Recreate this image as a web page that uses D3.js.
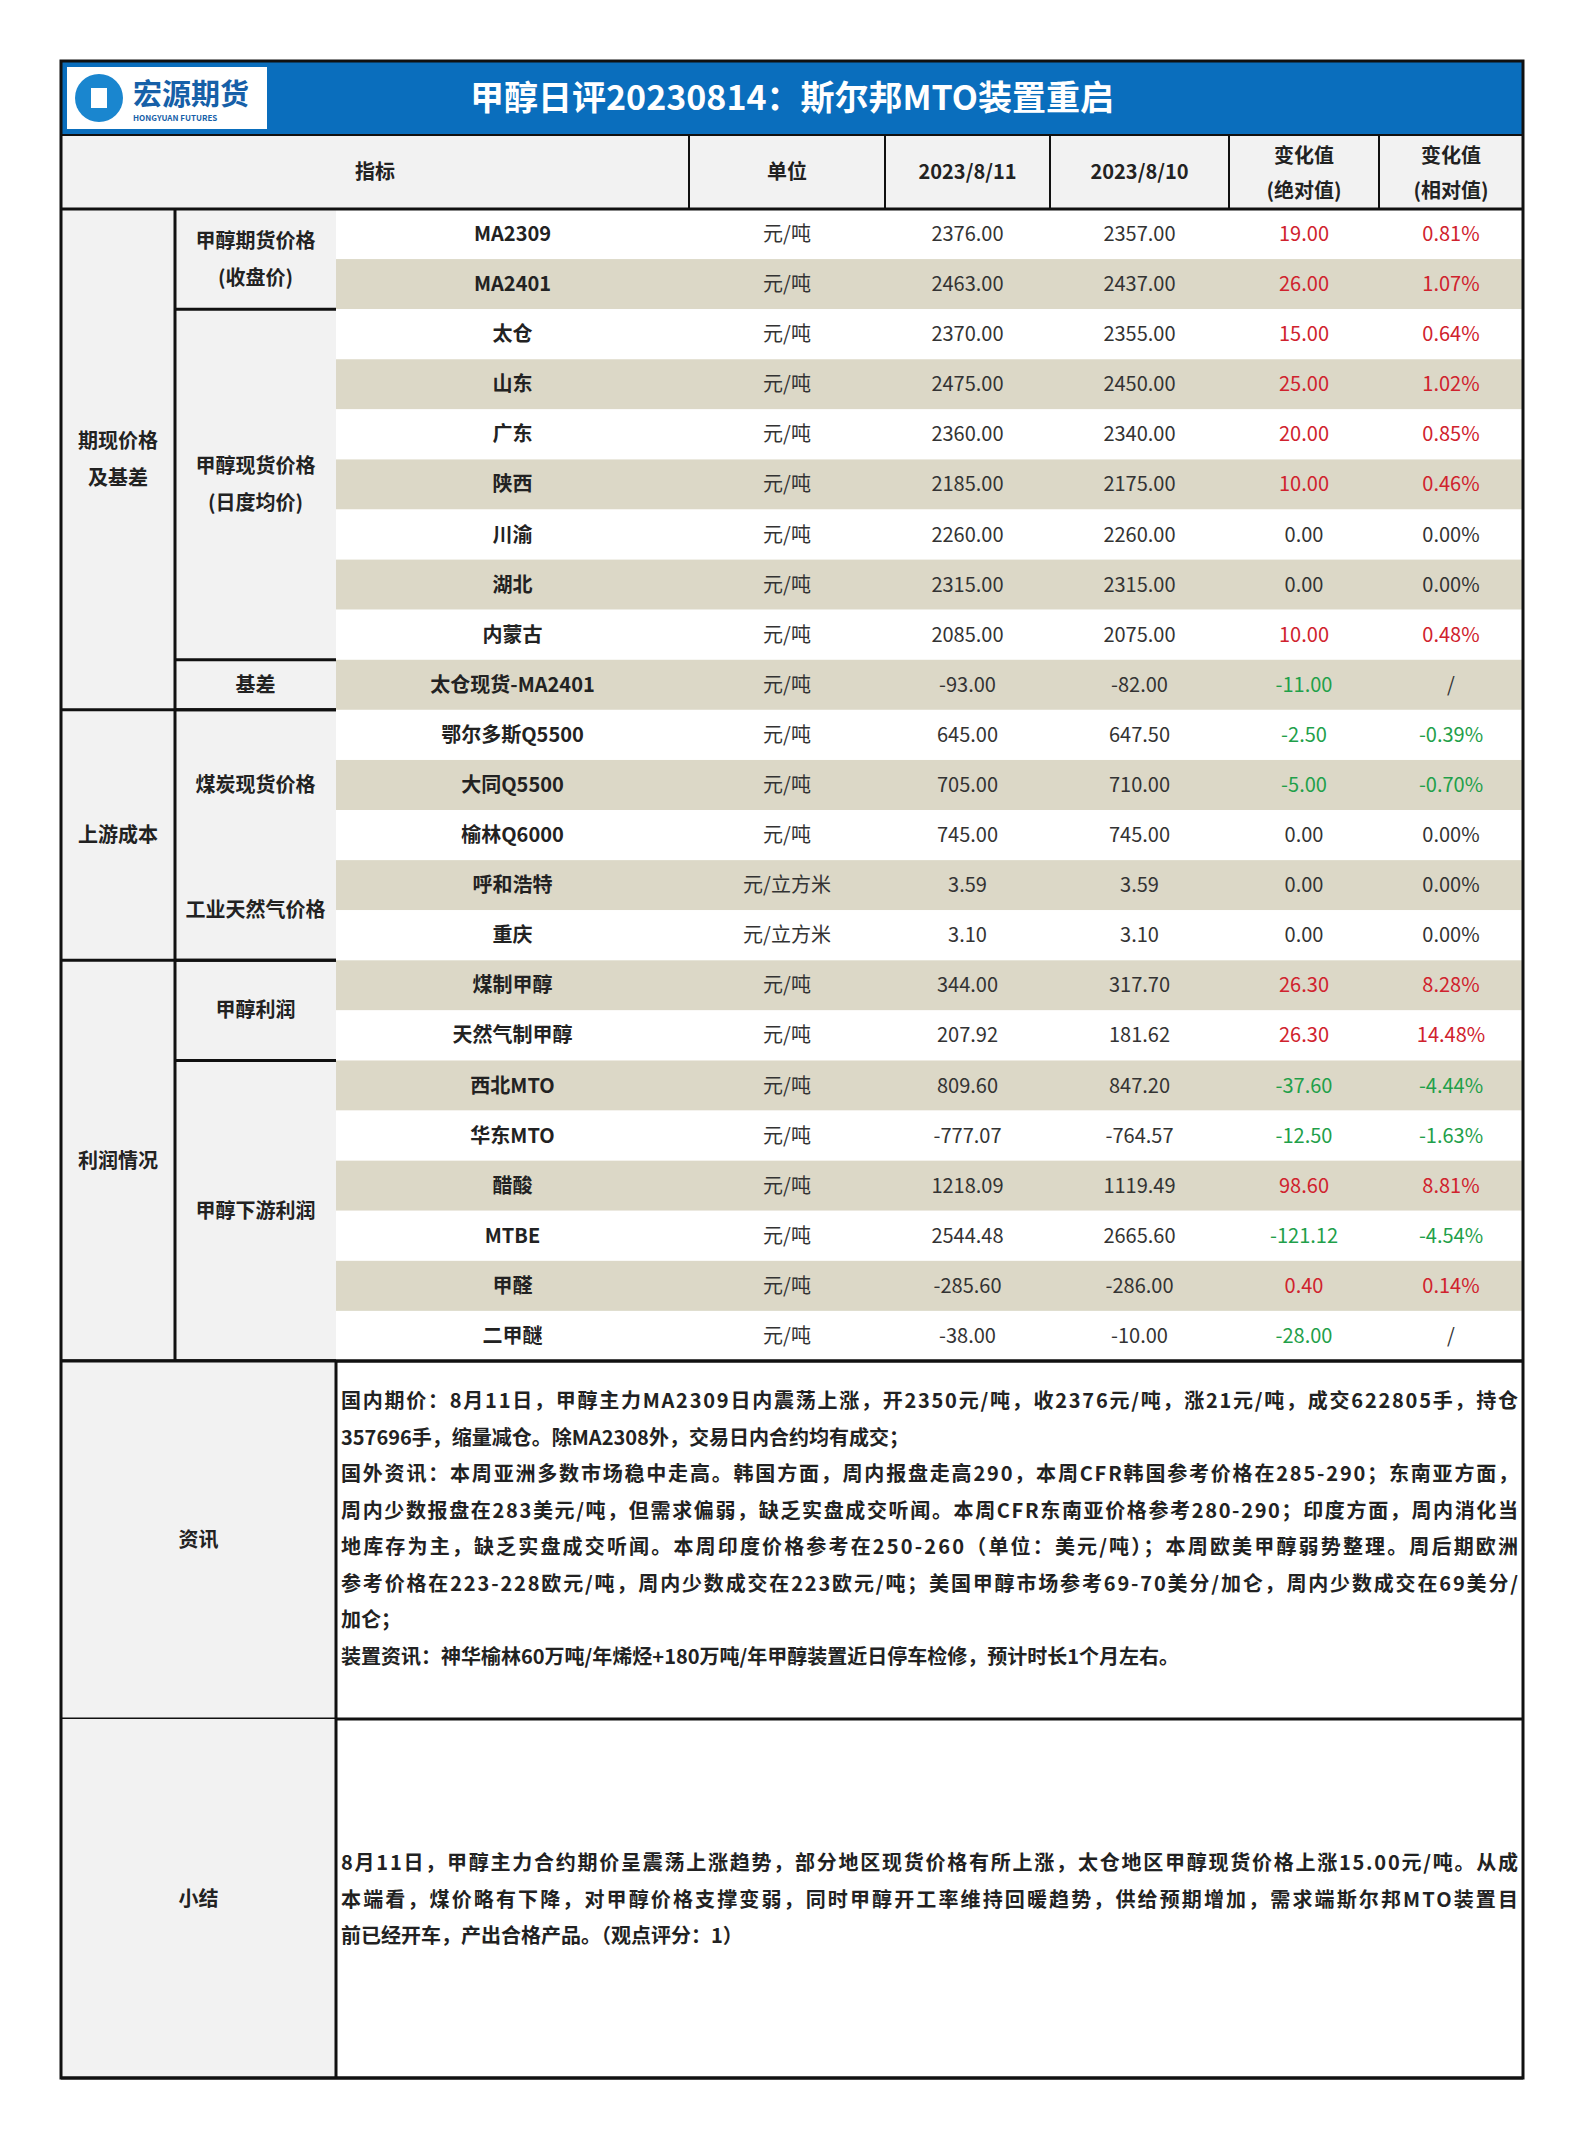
<!DOCTYPE html>
<html><head><meta charset="utf-8">
<script src="https://cdn.jsdelivr.net/npm/d3@7"></script>
<style>body{margin:0;background:#fff}text{font-family:"Noto Sans CJK SC","Noto Sans",sans-serif}</style>
</head><body><div id="chart"></div>
<script>
// row data
const names = ['MA2309','MA2401','太仓','山东','广东','陕西','川渝','湖北','内蒙古','太仓现货-MA2401',
  '鄂尔多斯Q5500','大同Q5500','榆林Q6000','呼和浩特','重庆',
  '煤制甲醇','天然气制甲醇','西北MTO','华东MTO','醋酸','MTBE','甲醛','二甲醚'];
const units = ['元/吨','元/吨','元/吨','元/吨','元/吨','元/吨','元/吨','元/吨','元/吨','元/吨',
  '元/吨','元/吨','元/吨','元/立方米','元/立方米','元/吨','元/吨','元/吨','元/吨','元/吨','元/吨','元/吨','元/吨'];
const valueToday = ['2376.00','2463.00','2370.00','2475.00','2360.00','2185.00','2260.00','2315.00','2085.00','-93.00',
  '645.00','705.00','745.00','3.59','3.10','344.00','207.92','809.60','-777.07','1218.09','2544.48','-285.60','-38.00'];
const valuePrev = ['2357.00','2437.00','2355.00','2450.00','2340.00','2175.00','2260.00','2315.00','2075.00','-82.00',
  '647.50','710.00','745.00','3.59','3.10','317.70','181.62','847.20','-764.57','1119.49','2665.60','-286.00','-10.00'];
const changeAbs = ['19.00','26.00','15.00','25.00','20.00','10.00','0.00','0.00','10.00','-11.00',
  '-2.50','-5.00','0.00','0.00','0.00','26.30','26.30','-37.60','-12.50','98.60','-121.12','0.40','-28.00'];
const changeRel = ['0.81%','1.07%','0.64%','1.02%','0.85%','0.46%','0.00%','0.00%','0.48%','/',
  '-0.39%','-0.70%','0.00%','0.00%','0.00%','8.28%','14.48%','-4.44%','-1.63%','8.81%','-4.54%','0.14%','/'];
const groups1 = [{label:['期现价格','及基差'],from:0,to:9},{label:['上游成本'],from:10,to:14},{label:['利润情况'],from:15,to:22}];
const groups2 = [{label:['甲醇期货价格','(收盘价)'],from:0,to:1,line:true},{label:['甲醇现货价格','(日度均价)'],from:2,to:8,line:true},
  {label:['基差'],from:9,to:9,line:true},{label:['煤炭现货价格'],from:10,to:12,line:false},{label:['工业天然气价格'],from:13,to:14,line:true},
  {label:['甲醇利润'],from:15,to:16,line:true},{label:['甲醇下游利润'],from:17,to:22,line:true}];
const headers = ['指标','单位','2023/8/11','2023/8/10',['变化值','(绝对值)'],['变化值','(相对值)']];
const infoLines = ['国内期价：8月11日，甲醇主力MA2309日内震荡上涨，开2350元/吨，收2376元/吨，涨21元/吨，成交622805手，持仓',
  '357696手，缩量减仓。除MA2308外，交易日内合约均有成交；',
  '国外资讯：本周亚洲多数市场稳中走高。韩国方面，周内报盘走高290，本周CFR韩国参考价格在285-290；东南亚方面，',
  '周内少数报盘在283美元/吨，但需求偏弱，缺乏实盘成交听闻。本周CFR东南亚价格参考280-290；印度方面，周内消化当',
  '地库存为主，缺乏实盘成交听闻。本周印度价格参考在250-260（单位：美元/吨）；本周欧美甲醇弱势整理。周后期欧洲',
  '参考价格在223-228欧元/吨，周内少数成交在223欧元/吨；美国甲醇市场参考69-70美分/加仑，周内少数成交在69美分/',
  '加仑；',
  '装置资讯：神华榆林60万吨/年烯烃+180万吨/年甲醇装置近日停车检修，预计时长1个月左右。'];
const summaryLines = ['8月11日，甲醇主力合约期价呈震荡上涨趋势，部分地区现货价格有所上涨，太仓地区甲醇现货价格上涨15.00元/吨。从成',
  '本端看，煤价略有下降，对甲醇价格支撑变弱，同时甲醇开工率维持回暖趋势，供给预期增加，需求端斯尔邦MTO装置目',
  '前已经开车，产出合格产品。（观点评分：1）'];

const W = 1583, H = 2138;
const L = 61, R = 1523, T = 61;
const cols = [61,175,336,689,885,1050,1229,1379,1523];
const svg = d3.select('#chart').append('svg').attr('width', W).attr('height', H);

const y = d3.scaleBand().domain(d3.range(names.length)).range([209, 1361]);
const rh = y.bandwidth();

// title bar
svg.append('rect').attr('x', L).attr('y', T).attr('width', R - L).attr('height', 74).attr('fill', '#0a6ebd');
svg.append('rect').attr('x', L + 6).attr('y', T + 6).attr('width', 200).attr('height', 62).attr('fill', '#fff');
svg.append('circle').attr('cx', L + 38).attr('cy', T + 37).attr('r', 24).attr('fill', '#1a86cf');
svg.append('rect').attr('x', L + 30).attr('y', T + 27).attr('width', 16).attr('height', 20).attr('fill', '#fff');
svg.append('text').attr('x', L + 72).attr('y', T + 44).attr('font-size', 29).attr('font-weight', 700).attr('fill', '#1660a8').text('宏源期货');
svg.append('text').attr('x', L + 72).attr('y', T + 60).attr('font-size', 8).attr('font-weight', 700).attr('fill', '#1660a8').text('HONGYUAN FUTURES');
svg.append('text').attr('x', 792).attr('y', T + 49).attr('text-anchor', 'middle').attr('font-size', 34).attr('font-weight', 700)
  .attr('fill', '#fff').text('甲醇日评20230814：斯尔邦MTO装置重启');

// header row
svg.append('rect').attr('x', L).attr('y', 135).attr('width', R - L).attr('height', 74).attr('fill', '#f2f2f2');
const hcols = [[cols[0], cols[3]], [cols[3], cols[4]], [cols[4], cols[5]], [cols[5], cols[6]], [cols[6], cols[7]], [cols[7], cols[8]]];
headers.forEach((h, i) => {
  const cx = (hcols[i][0] + hcols[i][1]) / 2;
  if (Array.isArray(h)) {
    h.forEach((t, j) => svg.append('text').attr('x', cx).attr('y', 163 + j * 35).attr('text-anchor', 'middle')
      .attr('font-size', 20).attr('font-weight', 700).attr('fill', '#222').text(t));
  } else {
    svg.append('text').attr('x', cx).attr('y', 179).attr('text-anchor', 'middle').attr('font-size', 20)
      .attr('font-weight', 700).attr('fill', '#222').text(h);
  }
  if (i > 0) svg.append('line').attr('x1', hcols[i][0]).attr('x2', hcols[i][0]).attr('y1', 135).attr('y2', 209)
    .attr('stroke', '#111').attr('stroke-width', 2);
});

// label columns background
svg.append('rect').attr('x', cols[0]).attr('y', 209).attr('width', cols[2] - cols[0]).attr('height', 1361 - 209).attr('fill', '#f2f2f2');

// data rows
const rows = svg.selectAll('.row').data(names).join('g').attr('class', 'row')
  .attr('transform', (d, i) => `translate(0,${y(i)})`);
rows.append('rect').attr('x', cols[2]).attr('width', cols[8] - cols[2]).attr('height', rh)
  .attr('fill', (d, i) => i % 2 ? '#dcd8c7' : '#fff');
const color = v => v === '/' || parseFloat(v) === 0 ? '#333' : (parseFloat(v) > 0 ? '#d0222d' : '#1fa04a');
const cellText = (g, xi, fn, weight, fill) => g.append('text')
  .attr('x', (cols[xi] + cols[xi + 1]) / 2).attr('y', rh / 2 + 7).attr('text-anchor', 'middle')
  .attr('font-size', 20).attr('font-weight', weight).attr('fill', fill).text(fn);
cellText(rows, 2, d => d, 700, '#222');
cellText(rows, 3, (d, i) => units[i], 400, '#333');
cellText(rows, 4, (d, i) => valueToday[i], 400, '#333');
cellText(rows, 5, (d, i) => valuePrev[i], 400, '#333');
rows.append('text').attr('x', (cols[6] + cols[7]) / 2).attr('y', rh / 2 + 7).attr('text-anchor', 'middle')
  .attr('font-size', 20).attr('fill', (d, i) => color(changeAbs[i])).text((d, i) => changeAbs[i]);
rows.append('text').attr('x', (cols[7] + cols[8]) / 2).attr('y', rh / 2 + 7).attr('text-anchor', 'middle')
  .attr('font-size', 20).attr('fill', (d, i) => color(changeRel[i] === '/' ? '/' : changeRel[i])).text((d, i) => changeRel[i]);

// group labels
const label = (lines, x, yc) => lines.forEach((t, j) => svg.append('text').attr('x', x)
  .attr('y', yc + 7 + (j - (lines.length - 1) / 2) * 37).attr('text-anchor', 'middle')
  .attr('font-size', 20).attr('font-weight', 700).attr('fill', '#222').text(t));
groups1.forEach(g => {
  label(g.label, (cols[0] + cols[1]) / 2, (y(g.from) + y(g.to) + rh) / 2);
  svg.append('line').attr('x1', cols[0]).attr('x2', cols[8]).attr('y1', y(g.to) + rh).attr('y2', y(g.to) + rh)
    .attr('stroke', '#111').attr('stroke-width', 3).attr('opacity', g.to === 22 ? 1 : 0);
  svg.append('line').attr('x1', cols[0]).attr('x2', cols[2]).attr('y1', y(g.to) + rh).attr('y2', y(g.to) + rh)
    .attr('stroke', '#111').attr('stroke-width', 3);
});
groups2.forEach(g => {
  const yc = g.label[0] === '工业天然气价格' ? y(g.to) : (y(g.from) + y(g.to) + rh) / 2;
  label(g.label, (cols[1] + cols[2]) / 2, yc);
  if (g.line) svg.append('line').attr('x1', cols[1]).attr('x2', cols[2]).attr('y1', y(g.to) + rh).attr('y2', y(g.to) + rh)
    .attr('stroke', '#111').attr('stroke-width', 3);
});
svg.append('line').attr('x1', cols[1]).attr('x2', cols[1]).attr('y1', 209).attr('y2', 1361).attr('stroke', '#111').attr('stroke-width', 3);
svg.append('line').attr('x1', L).attr('x2', R).attr('y1', 209).attr('y2', 209).attr('stroke', '#111').attr('stroke-width', 3);
svg.append('line').attr('x1', L).attr('x2', R).attr('y1', 135).attr('y2', 135).attr('stroke', '#111').attr('stroke-width', 2);

// info + summary blocks
const blocks = [{title: '资讯', y0: 1361, y1: 1719, lines: infoLines, ty: 1408},
  {title: '小结', y0: 1719, y1: 2078, lines: summaryLines, ty: 1870}];
blocks.forEach(b => {
  svg.append('rect').attr('x', L).attr('y', b.y0).attr('width', cols[2] - L).attr('height', b.y1 - b.y0).attr('fill', '#f2f2f2');
  svg.append('text').attr('x', (L + cols[2]) / 2).attr('y', (b.y0 + b.y1) / 2 + 7).attr('text-anchor', 'middle')
    .attr('font-size', 20).attr('font-weight', 700).attr('fill', '#222').text(b.title);
  b.lines.forEach((t, j) => svg.append('text').attr('x', cols[2] + 5).attr('y', b.ty + j * 36.5)
    .attr('font-size', 20).attr('font-weight', 700).attr('fill', '#222').attr('textLength', j === b.lines.length - 1 || t.length < 40 ? null : R - cols[2] - 10)
    .text(t));
  svg.append('line').attr('x1', L).attr('x2', R).attr('y1', b.y1).attr('y2', b.y1).attr('stroke', '#111').attr('stroke-width', 3);
  svg.append('line').attr('x1', cols[2]).attr('x2', cols[2]).attr('y1', b.y0).attr('y2', b.y1).attr('stroke', '#111').attr('stroke-width', 3);
});
svg.append('line').attr('x1', L).attr('x2', R).attr('y1', 1361).attr('y2', 1361).attr('stroke', '#111').attr('stroke-width', 3);

// outer border
svg.append('rect').attr('x', L).attr('y', T).attr('width', R - L).attr('height', 2078 - T)
  .attr('fill', 'none').attr('stroke', '#111').attr('stroke-width', 3);
</script></body></html>
